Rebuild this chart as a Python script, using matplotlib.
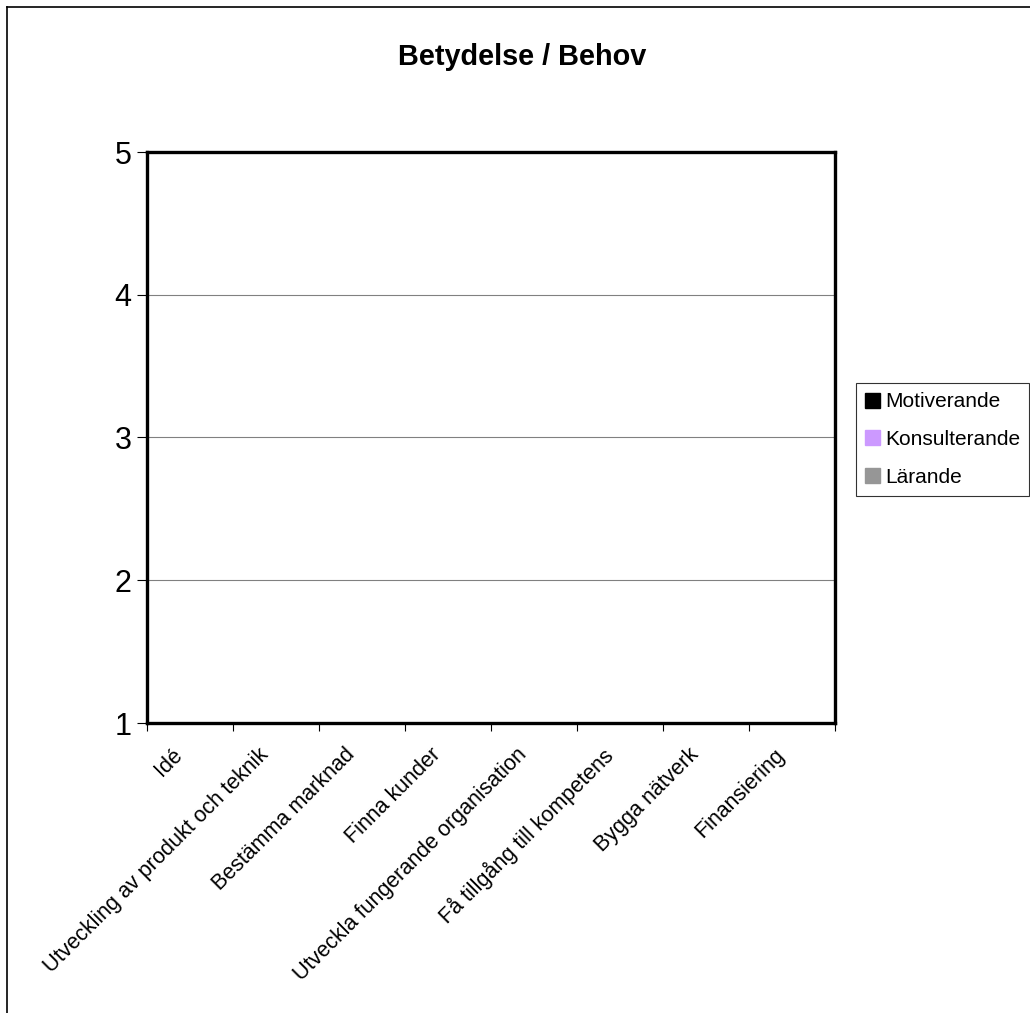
import matplotlib
matplotlib.use("Agg")
import matplotlib.pyplot as plt
import numpy as np
from matplotlib.patches import Rectangle
from matplotlib.lines import Line2D

plt.rcParams['font.family'] = ['Liberation Sans', 'DejaVu Sans']

categories = ["Idé", "Utveckling av produkt och teknik", "Bestämma marknad",
              "Finna kunder", "Utveckla fungerande organisation",
              "Få tillgång till kompetens", "Bygga nätverk", "Finansiering"]
series_names = ["Motiverande", "Konsulterande", "Lärande"]
series_colors = ["#000000", "#CC99FF", "#969696"]
motiverande = [0, 0, 0, 0, 0, 0, 0, 0]
konsulterande = [0, 0, 0, 0, 0, 0, 0, 0]
larande = [0, 0, 0, 0, 0, 0, 0, 0]
yticks = [1, 2, 3, 4, 5]

W, H = 1030, 1013
fig = plt.figure(figsize=(W/100, H/100), dpi=100)
ax = fig.add_axes([147/W, 1-723/H, (835-147)/W, (723-152)/H])

x = np.arange(len(categories))
bw = 0.25
handles = []
for i, (vals, name, col) in enumerate(zip([motiverande, konsulterande, larande], series_names, series_colors)):
    b = ax.bar(x + (i-1)*bw, vals, bw, color=col, label=name)
    handles.append(b)

ax.set_xlim(-0.5, len(categories)-0.5)
ax.set_ylim(1, 5)
ax.set_yticks(yticks)
ax.set_yticklabels([str(t) for t in yticks], fontsize=22)
ax.yaxis.grid(True, color='#808080', linewidth=0.8)
ax.set_axisbelow(True)
for s in ax.spines.values():
    s.set_linewidth(2.4)
    s.set_color('black')
ax.tick_params(axis='y', length=7, width=0.8, pad=4)
ax.set_xticks(np.arange(len(categories)+1) - 0.5)
ax.set_xticklabels([])
ax.tick_params(axis='x', length=6, width=0.8)
for xi, lab in zip(x, categories):
    ax.text(xi - 0.21, 0.85, lab, rotation=45, ha='right', va='top', fontsize=15.5,
            rotation_mode='anchor', transform=ax.transData, clip_on=False)

fig.text(522/W, 1-57/H, "Betydelse / Behov", ha='center', va='center', fontsize=20.8, fontweight='bold')

leg = fig.legend(handles=[Rectangle((0,0),1,1,color=c) for c in series_colors], labels=series_names,
                 loc='upper left', bbox_to_anchor=(856/W, 1-383/H), fontsize=15,
                 frameon=True, fancybox=False, edgecolor='black', handlelength=0.72, handleheight=0.72,
                 handletextpad=0.22, labelspacing=0.9, borderpad=0.45, borderaxespad=0)
leg.get_frame().set_linewidth(0.8)

# outer chart area border (top and left visible)
fig.add_artist(Line2D([7/W, 1], [1-7/H, 1-7/H], color='black', linewidth=1.2, transform=fig.transFigure))
fig.add_artist(Line2D([7/W, 7/W], [0, 1-7/H], color='black', linewidth=1.2, transform=fig.transFigure))

fig.savefig("out.png", dpi=100)
